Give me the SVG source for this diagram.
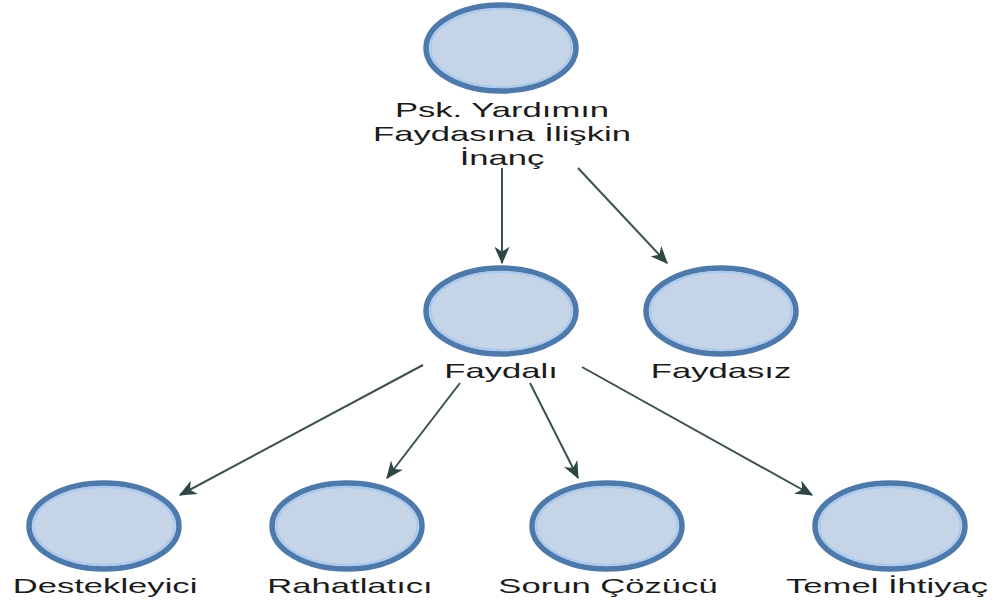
<svg xmlns="http://www.w3.org/2000/svg" width="1000" height="602" viewBox="0 0 1000 602">
<defs>
<style>
.ring{fill:#c6d4e7;stroke:#4d79ab;stroke-width:5.5}
.inner{fill:none;stroke:#a9c9ef;stroke-width:2}
.lbl{font-family:"Liberation Sans",Arial,sans-serif;font-size:21px;fill:#1b1b1b;text-anchor:middle}
.edge{stroke:#3b514e;stroke-width:2;fill:none}
</style>
<marker id="ah" viewBox="0 0 14 12" refX="13" refY="6" markerWidth="18" markerHeight="15" markerUnits="userSpaceOnUse" orient="auto">
<path d="M0,0 L14,6 L0,12 L4,6 Z" fill="#2f4744"/>
</marker>
</defs>
<rect width="1000" height="602" fill="#ffffff"/>
<g id="connectors">
<line class="edge" x1="502" y1="168" x2="502" y2="263" marker-end="url(#ah)"/>
<line class="edge" x1="578" y1="168" x2="667" y2="263" marker-end="url(#ah)"/>
<line class="edge" x1="423" y1="365" x2="180" y2="495" marker-end="url(#ah)"/>
<line class="edge" x1="460" y1="383" x2="387" y2="478" marker-end="url(#ah)"/>
<line class="edge" x1="530" y1="383" x2="578" y2="478" marker-end="url(#ah)"/>
<line class="edge" x1="582" y1="367" x2="812" y2="495" marker-end="url(#ah)"/>
</g>
<g id="node-inanc">
<ellipse class="ring" cx="501" cy="48" rx="75" ry="43"/>
<ellipse class="inner" cx="501" cy="48" rx="70.5" ry="39"/>
<text class="lbl" transform="translate(502,117) scale(1.65,1)">Psk. Yardımın</text>
<text class="lbl" transform="translate(502,141) scale(1.65,1)">Faydasına İlişkin</text>
<text class="lbl" transform="translate(502,165) scale(1.65,1)">İnanç</text>
</g>
<g id="node-faydali">
<ellipse class="ring" cx="501" cy="311" rx="75" ry="43"/>
<ellipse class="inner" cx="501" cy="311" rx="70.5" ry="39"/>
<text class="lbl" transform="translate(501,378) scale(1.65,1)">Faydalı</text>
</g>
<g id="node-faydasiz">
<ellipse class="ring" cx="721" cy="311" rx="75" ry="43"/>
<ellipse class="inner" cx="721" cy="311" rx="70.5" ry="39"/>
<text class="lbl" transform="translate(721,378) scale(1.65,1)">Faydasız</text>
</g>
<g id="node-destekleyici">
<ellipse class="ring" cx="104" cy="526" rx="75" ry="43"/>
<ellipse class="inner" cx="104" cy="526" rx="70.5" ry="39"/>
<text class="lbl" transform="translate(105,593) scale(1.65,1)">Destekleyici</text>
</g>
<g id="node-rahatlatici">
<ellipse class="ring" cx="347" cy="526" rx="75" ry="43"/>
<ellipse class="inner" cx="347" cy="526" rx="70.5" ry="39"/>
<text class="lbl" transform="translate(350,593) scale(1.65,1)">Rahatlatıcı</text>
</g>
<g id="node-sorun">
<ellipse class="ring" cx="607" cy="526" rx="75" ry="43"/>
<ellipse class="inner" cx="607" cy="526" rx="70.5" ry="39"/>
<text class="lbl" transform="translate(608,593) scale(1.65,1)">Sorun Çözücü</text>
</g>
<g id="node-temel">
<ellipse class="ring" cx="890" cy="526" rx="75" ry="43"/>
<ellipse class="inner" cx="890" cy="526" rx="70.5" ry="39"/>
<text class="lbl" transform="translate(887,593) scale(1.65,1)">Temel İhtiyaç</text>
</g>
</svg>
